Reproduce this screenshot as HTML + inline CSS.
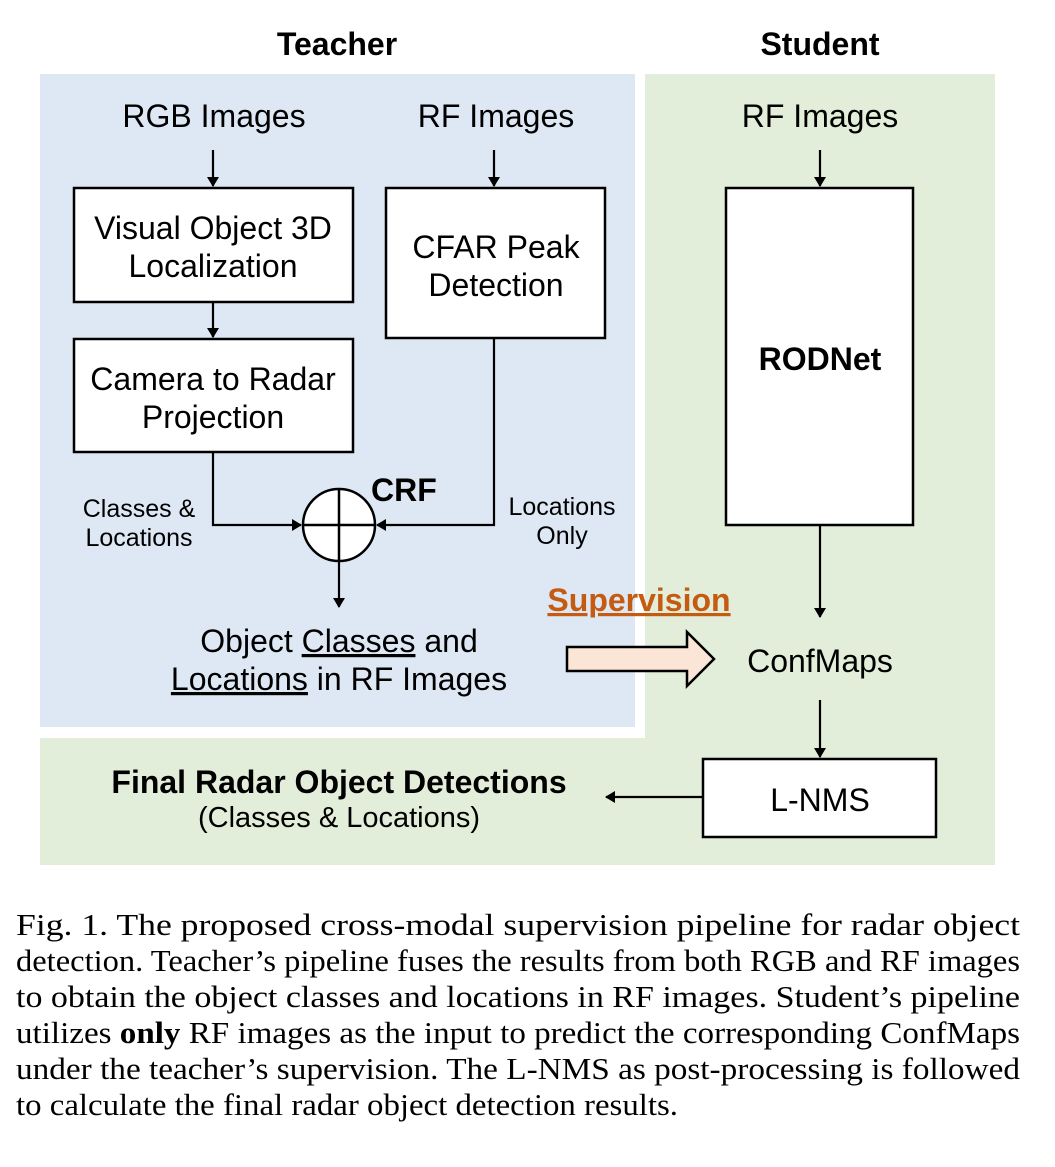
<!DOCTYPE html>
<html><head><meta charset="utf-8"><style>
html,body{margin:0;padding:0;background:#fff;}
svg{display:block;}
.s{font-family:"Liberation Sans",sans-serif;fill:#000;}
.c{font-family:"Liberation Serif",serif;font-size:31px;fill:#000;}
.u{text-decoration:underline;}
</style></head><body>
<svg width="1055" height="1167" viewBox="0 0 1055 1167" xmlns="http://www.w3.org/2000/svg">
<defs><marker id="a" markerWidth="10" markerHeight="12" refX="9" refY="6" orient="auto" markerUnits="userSpaceOnUse"><path d="M0,0 L10,6 L0,12 Z" fill="#000"/></marker></defs>
<path d="M645,74 H995 V865 H40 V738 H645 Z" fill="#e2eed9"/>
<rect x="40" y="74" width="595" height="653" fill="#dde8f4"/>
<text class="s" x="337" y="55" font-size="32" font-weight="bold" text-anchor="middle">Teacher</text>
<text class="s" x="820" y="55" font-size="32" font-weight="bold" text-anchor="middle">Student</text>
<g class="s" font-size="32" text-anchor="middle">
<text x="214" y="127">RGB Images</text>
<text x="496" y="127">RF Images</text>
<text x="820" y="127">RF Images</text>
</g>
<g stroke="#000" stroke-width="2.5" fill="#fff">
<rect x="74" y="188" width="279" height="114"/>
<rect x="386" y="188" width="219" height="150"/>
<rect x="74" y="339" width="279" height="113"/>
<rect x="726" y="188" width="187" height="337"/>
<rect x="703" y="759" width="233" height="78"/>
</g>
<g class="s" font-size="32" text-anchor="middle">
<text x="213" y="239">Visual Object 3D</text>
<text x="213" y="277">Localization</text>
<text x="496" y="258">CFAR Peak</text>
<text x="496" y="296">Detection</text>
<text x="213" y="390">Camera to Radar</text>
<text x="213" y="428">Projection</text>
<text x="820" y="370" font-weight="bold">RODNet</text>
<text x="820" y="811">L-NMS</text>
<text x="820" y="672">ConfMaps</text>
</g>
<g stroke="#000" stroke-width="2.2" fill="none">
<line x1="213" y1="150" x2="213" y2="186" marker-end="url(#a)"/>
<line x1="494" y1="150" x2="494" y2="186" marker-end="url(#a)"/>
<line x1="820" y1="150" x2="820" y2="186" marker-end="url(#a)"/>
<line x1="213" y1="302" x2="213" y2="337" marker-end="url(#a)"/>
<polyline points="213,452 213,525 301,525" marker-end="url(#a)"/>
<polyline points="494,338 494,525 377,525" marker-end="url(#a)"/>
<line x1="339" y1="562" x2="339" y2="607" marker-end="url(#a)"/>
<line x1="820" y1="525" x2="820" y2="617" marker-end="url(#a)"/>
<line x1="820" y1="700" x2="820" y2="757" marker-end="url(#a)"/>
<line x1="703" y1="797" x2="606" y2="797" marker-end="url(#a)"/>
</g>
<circle cx="339" cy="525" r="36" fill="#fff" stroke="#000" stroke-width="2.5"/>
<line x1="339" y1="489" x2="339" y2="561" stroke="#000" stroke-width="2.5"/>
<line x1="303" y1="525" x2="375" y2="525" stroke="#000" stroke-width="2.5"/>
<text class="s" x="371" y="501" font-size="32" font-weight="bold">CRF</text>
<g class="s" font-size="25" text-anchor="middle">
<text x="139" y="517">Classes &amp;</text>
<text x="139" y="546">Locations</text>
<text x="562" y="515">Locations</text>
<text x="562" y="544">Only</text>
</g>
<g class="s" font-size="32" text-anchor="middle">
<text x="339" y="652">Object <tspan class="u">Classes</tspan> and</text>
<text x="339" y="690"><tspan class="u">Locations</tspan> in RF Images</text>
</g>
<text class="s u" x="639" y="611" font-size="32" font-weight="bold" text-anchor="middle" style="fill:#c55a11">Supervision</text>
<path d="M567,647 H687 V632 L714,659 L687,686 V671 H567 Z" fill="#fbe5d6" stroke="#000" stroke-width="2.5"/>
<text class="s" x="339" y="793" font-size="32" font-weight="bold" text-anchor="middle">Final Radar Object Detections</text>
<text class="s" x="339" y="827" font-size="29" text-anchor="middle">(Classes &amp; Locations)</text>
<g class="c">
<text x="16" y="935" textLength="1004" lengthAdjust="spacingAndGlyphs">Fig. 1.  The proposed cross-modal supervision pipeline for radar object</text>
<text x="16" y="971" textLength="1004" lengthAdjust="spacingAndGlyphs">detection. Teacher’s pipeline fuses the results from both RGB and RF images</text>
<text x="16" y="1007" textLength="1004" lengthAdjust="spacingAndGlyphs">to obtain the object classes and locations in RF images. Student’s pipeline</text>
<text x="16" y="1043" textLength="1004" lengthAdjust="spacingAndGlyphs">utilizes <tspan font-weight="bold">only</tspan> RF images as the input to predict the corresponding ConfMaps</text>
<text x="16" y="1079" textLength="1004" lengthAdjust="spacingAndGlyphs">under the teacher’s supervision. The L-NMS as post-processing is followed</text>
<text x="16" y="1115" textLength="662" lengthAdjust="spacingAndGlyphs">to calculate the final radar object detection results.</text>
</g>
</svg>
</body></html>
